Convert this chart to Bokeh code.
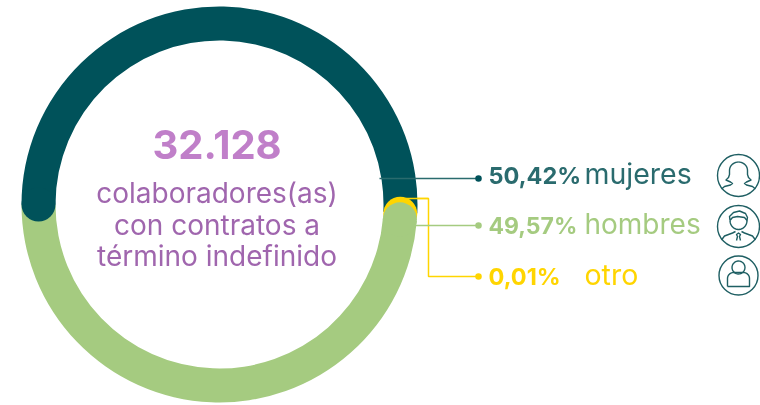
import numpy as np
from bokeh.plotting import figure
from bokeh.models import Range1d
from bokeh.core.properties import value
from bokeh.embed import file_html
from bokeh.resources import INLINE

# --- data ---
total_label = "32.128"
subtitle = ["colaboradores(as)", "con contratos a", "término indefinido"]
categories = ["mujeres", "hombres", "otro"]
shares = [50.42, 49.57, 0.01]
share_labels = ["50,42%", "49,57%", "0,01%"]

# --- style ---
W, H = 760, 405
DARK, GREEN, YELLOW = "#00525A", "#A5CB80", "#FFD500"
TXT = ["#2A6B6E", "#A5CB80", "#FFD500"]
PURPLE_B, PURPLE = "#C07FC9", "#A066AE"
FONT = "Inter"
ICON = "#1F5F63"
cx, cy, r_out, r_in = 219, 204, 198, 164
r_mid, cap = (r_out + r_in) / 2, (r_out - r_in) / 2

def Y(v):
    return H - np.asarray(v, dtype=float)

p = figure(width=W, height=H, x_range=Range1d(0, W), y_range=Range1d(0, H),
           toolbar_location=None, output_backend="svg", min_border=0,
           outline_line_color=None, background_fill_color="white", border_fill_color="white")
p.axis.visible = False
p.grid.visible = False
p.styles = {"position": "fixed", "left": "0", "top": "0"}

a0 = 180.0
dark_end = a0 - shares[0] * 3.6
yellow_end = dark_end - 1.4   # exaggerated: the 0,01% is drawn as a visible sliver
green_end = yellow_end - 1.8

def wedge(a_from, a_to, color):
    p.annular_wedge(cx, Y(cy), r_in, r_out, np.radians(a_to), np.radians(a_from),
                    fill_color=color, line_color=None, direction="anticlock")

def capdot(a, color):
    t = np.radians(a)
    p.circle(cx + r_mid * np.cos(t), Y(cy) + r_mid * np.sin(t), radius=cap,
             fill_color=color, line_color=None)

p.line([405, 428, 428, 478], Y([198, 198, 276, 276]), line_color=YELLOW, line_width=1.5)

wedge(green_end, -180, GREEN)
wedge(a0, dark_end - 1.0, DARK)
capdot(a0, DARK)
capdot(yellow_end, YELLOW)
capdot(green_end, GREEN)

p.line([379, 478], Y([178, 178]), line_color="#2A6B6E", line_width=1.5)
p.line([412, 478], Y([225, 225]), line_color=GREEN, line_width=1.5)
p.line([405, 428], Y([198, 198]), line_color=YELLOW, line_width=1.5)
p.scatter([478, 478, 478], Y([178, 225, 276]), size=6.5,
          fill_color=[DARK, GREEN, YELLOW], line_color=None)

def txt(x, y, s, size, color, bold=False, align="left"):
    # the renderer draws the "alphabetic" baseline lower by about 0.4 em
    p.text([x], Y([y - 0.4 * size]), text=[s], text_font=value(FONT), text_font_size=f"{size}px",
           text_font_style="bold" if bold else "normal", text_color=color,
           text_align=align, text_baseline="alphabetic")

txt(216.5, 160, total_label, 40, PURPLE_B, True, "center")
for s, y in zip(subtitle, [204, 236, 267]):
    txt(216.5, y, s, 28, PURPLE, False, "center")

share_sizes = [23.5, 23, 23.5]
word_sizes = [28.5, 28, 28.5]
for i, y in enumerate([184, 235, 285]):
    txt(488, y, share_labels[i], share_sizes[i], TXT[i], True)
    txt(584, y, categories[i], word_sizes[i], TXT[i])

# icons
def icon_line(ox, oy, pts):
    a = np.array(pts, dtype=float)
    p.line(ox + a[:, 0], Y(oy + a[:, 1]), line_color=ICON, line_width=1.4, line_join="round")

def arc(x, y, rx, ry, a1, a2, n=24):
    t = np.radians(np.linspace(a1, a2, n))
    return list(zip(x + rx * np.cos(t), y + ry * np.sin(t)))

for (ix, iy, ir) in [(738, 175, 21), (738, 226, 21), (738, 275, 19.5)]:
    p.circle([ix], Y([iy]), radius=ir, fill_color=None, line_color=ICON, line_width=1.4)

# woman
for s in (1, -1):
    side = arc(0, -5, 9, 8.5, 270, 360, 12) + [(9, -1), (10, 2), (12.5, 4.5), (8, 6.5), (6, 8), (8, 9.5), (14, 11), (17, 13.5)]
    icon_line(738, 175, [(s * x, y) for x, y in side])
# man
icon_line(738, 226, arc(0, -6, 8.5, 9, 0, 180))
icon_line(738, 226, [(-8.5, -6), (-9, -10), (-5, -14), (1, -15.5), (7, -13), (9, -9), (8.5, -6),
                     (6, -9), (-1, -10), (-6, -9), (-8.5, -6)])
icon_line(738, 226, [(-17, 13.5), (-14, 9.5), (-6, 6.5), (-3, 5)])
icon_line(738, 226, [(17, 13.5), (14, 9.5), (6, 6.5), (3, 5)])
icon_line(738, 226, [(-2, 14), (-1, 10), (-2, 8), (0, 6.5), (2, 8), (1, 10), (2, 14)])
# neutral
icon_line(738, 275, arc(0, -8, 6.5, 6.5, 0, 360))
icon_line(738, 275, [(-11, 11)] + arc(-5, 3, 6, 6, 180, 270, 10) + arc(5, 3, 6, 6, 270, 360, 10)
          + [(11, 11), (-11, 11)])

open("out.html", "w").write(file_html(p, INLINE))
